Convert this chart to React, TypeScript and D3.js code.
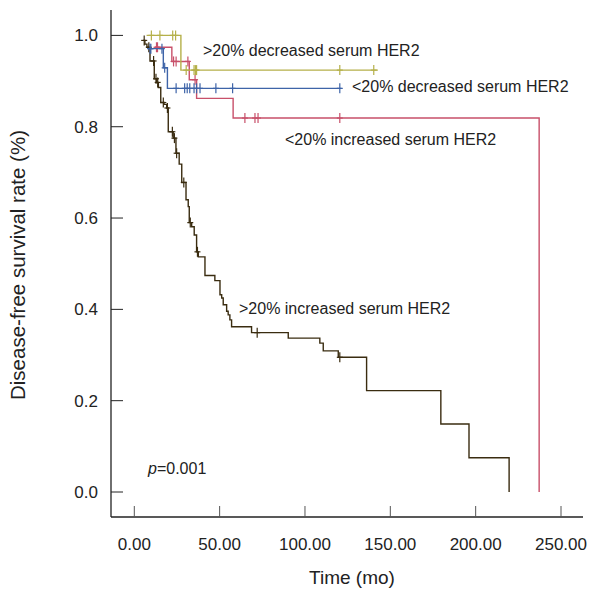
import * as d3 from "d3";

// --- data ---

// >20% decreased serum HER2
const decHighTime = [7.2, 27.3];
const decHighSurv = [1.0, 0.924];
const decHighEnd = 142.7;
const decHighCensor = [10, 15, 22.5, 24.2, 30.4, 35, 35.8, 36.5, 120.4, 140.3];

// <20% decreased serum HER2
const decLowTime = [8.1, 17, 19.4];
const decLowSurv = [0.971, 0.929, 0.884];
const decLowEnd = 121.4;
const decLowCensor = [9.2, 9.7, 16.2, 17.8, 24.5, 29.5, 31, 32.5, 35, 36.5, 38.5, 47.8, 57.6, 120.4];

// <20% increased serum HER2
const incLowTime = [12.1, 22, 32.2, 36.5, 57.9, 237.2];
const incLowSurv = [0.974, 0.943, 0.903, 0.862, 0.819, 0];
const incLowEnd = 237.2;
const incLowCensor = [13, 13.6, 23, 24.5, 31.4, 35.6, 64.8, 70.7, 72.5, 120.4];

// >20% increased serum HER2
const incHighTime = [
  5.1, 6.2, 7.4, 9.2, 11.7, 13.1, 14.1, 15.5, 17.4, 19, 19.9, 22.8, 24.4, 26.3,
  27.8, 30.3, 31.6, 32.2, 33.6, 35.1, 36.5, 37.5, 41.4, 47.2, 50.2, 51.2, 52.1,
  54.1, 55, 56, 57, 68.7, 90.2, 108.7, 110.7, 119.5, 136.1, 179.6, 196.1, 219.6,
];
const incHighSurv = [
  0.989, 0.981, 0.974, 0.944, 0.905, 0.897, 0.886, 0.853, 0.849, 0.841, 0.789,
  0.775, 0.742, 0.718, 0.678, 0.64, 0.625, 0.59, 0.581, 0.563, 0.526, 0.515,
  0.474, 0.463, 0.432, 0.425, 0.41, 0.396, 0.388, 0.377, 0.362, 0.349, 0.337,
  0.326, 0.309, 0.295, 0.222, 0.149, 0.075, 0,
];
const incHighEnd = 219.6;
const incHighCensor = [5.8, 8.5, 11.3, 12.7, 13.7, 17, 19.4, 22.3, 23.5, 24.8, 29, 32.8, 37, 72, 120.4];

const xTicks = [0, 50, 100, 150, 200, 250];
const yTicks = [0, 0.2, 0.4, 0.6, 0.8, 1.0];

// --- style / layout ---

const W = 589;
const H = 591;
const FONT = "'Liberation Sans', Arial, Helvetica, sans-serif";
const AXIS = {
  left: 111,
  bottom: 517,
  top: 10,
  right: 583,
  color: "#222",
  tickColor: "#555",
};

type Group = {
  label: string;
  color: string;
  time: number[];
  surv: number[];
  end: number;
  censor: number[];
  labelX: number;
  labelY: number;
};

const groups: Group[] = [
  { label: ">20% increased serum HER2", color: "#3a2c10", time: incHighTime, surv: incHighSurv, end: incHighEnd, censor: incHighCensor, labelX: 239, labelY: 314 },
  { label: "<20% increased serum HER2", color: "#c8506a", time: incLowTime, surv: incLowSurv, end: incLowEnd, censor: incLowCensor, labelX: 285, labelY: 145 },
  { label: "<20% decreased serum HER2", color: "#3e64a8", time: decLowTime, surv: decLowSurv, end: decLowEnd, censor: decLowCensor, labelX: 352, labelY: 92 },
  { label: ">20% decreased serum HER2", color: "#b5b04a", time: decHighTime, surv: decHighSurv, end: decHighEnd, censor: decHighCensor, labelX: 203, labelY: 56 },
];

export default function App() {
  const x = d3.scaleLinear().domain([0, 250]).range([134.3, 561]);
  const y = d3.scaleLinear().domain([0, 1]).range([492, 35.4]);

  const line = d3
    .line<[number, number]>()
    .x((d) => x(d[0]))
    .y((d) => y(d[1]))
    .curve(d3.curveStepAfter);

  return (
    <svg
      width={W}
      height={H}
      style={{ position: "absolute", left: 0, top: 0, background: "#fff" }}
      fontFamily={FONT}
    >
      {/* axes */}
      <line x1={AXIS.left} y1={AXIS.top} x2={AXIS.left} y2={AXIS.bottom} stroke={AXIS.color} strokeWidth={1.3} />
      <line x1={AXIS.left} y1={AXIS.bottom} x2={AXIS.right} y2={AXIS.bottom} stroke={AXIS.color} strokeWidth={1.3} />
      {yTicks.map((t) => (
        <g key={"y" + t}>
          <line x1={AXIS.left} x2={AXIS.left + 12} y1={y(t)} y2={y(t)} stroke={AXIS.color} strokeWidth={1} />
          <text x={98} y={y(t) + 6} fontSize={17} textAnchor="end" fill="#222">
            {d3.format(".1f")(t)}
          </text>
        </g>
      ))}
      {xTicks.map((t) => (
        <g key={"x" + t}>
          <line x1={x(t)} x2={x(t)} y1={AXIS.bottom - 11} y2={AXIS.bottom} stroke={AXIS.tickColor} strokeWidth={1} />
          <text x={x(t)} y={550} fontSize={17} textAnchor="middle" fill="#222">
            {d3.format(".2f")(t)}
          </text>
        </g>
      ))}
      <text x={352} y={584} fontSize={19} textAnchor="middle" fill="#222">
        Time (mo)
      </text>
      <text
        transform={`translate(25,265) rotate(-90)`}
        fontSize={20.5}
        textAnchor="middle"
        fill="#222"
      >
        Disease-free survival rate (%)
      </text>

      {/* curves */}
      {groups.map((g) => {
        const pts: [number, number][] = g.time.map((t, i) => [t, g.surv[i]]);
        const last = g.surv[g.surv.length - 1];
        if (g.end > g.time[g.time.length - 1]) pts.push([g.end, last]);
        return (
          <g key={g.label}>
            <path d={line(pts) ?? ""} fill="none" stroke={g.color} strokeWidth={1.4} />
            {g.censor.map((c, i) => {
              const idx = Math.max(0, d3.bisectRight(g.time, c) - 1);
              const cx = x(c);
              const cy = y(g.surv[idx]);
              return (
                <g key={i} stroke={g.color} strokeWidth={1.2}>
                  <line x1={cx} x2={cx} y1={cy - 5} y2={cy + 5} />
                  <line x1={cx - 3} x2={cx + 3} y1={cy} y2={cy} />
                </g>
              );
            })}
          </g>
        );
      })}

      {/* curve labels */}
      {groups.map((g) => (
        <text key={"l" + g.label} x={g.labelX} y={g.labelY} fontSize={16} fill="#222">
          {g.label}
        </text>
      ))}
      <text x={148} y={474} fontSize={16} fill="#222">
        <tspan fontStyle="italic">p</tspan>
        <tspan>=0.001</tspan>
      </text>
    </svg>
  );
}
